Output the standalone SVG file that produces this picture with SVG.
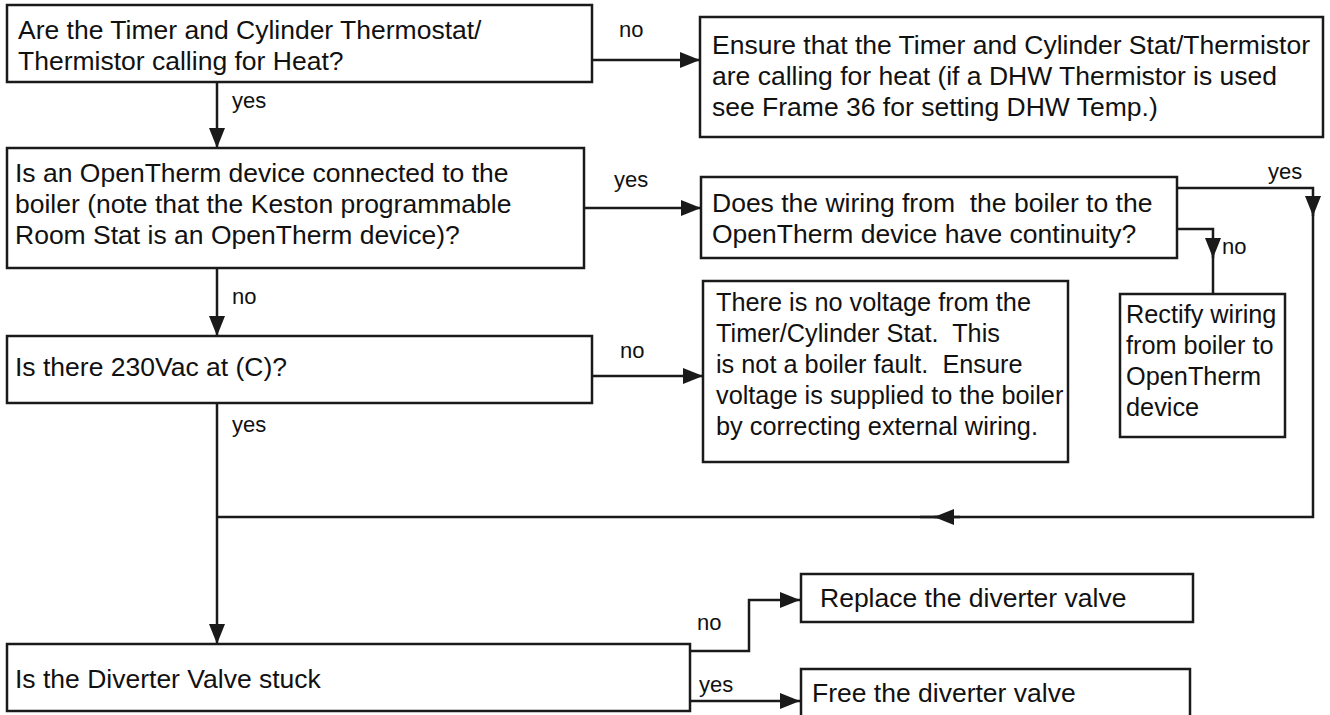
<svg xmlns="http://www.w3.org/2000/svg" width="1330" height="715" viewBox="0 0 1330 715">
<defs>
<marker id="ah" viewBox="0 0 20 16" refX="20" refY="8" markerWidth="20" markerHeight="16" markerUnits="userSpaceOnUse" orient="auto">
<path d="M0,0 L20,8 L0,16 Z" fill="#1a1a1a"/>
</marker>
<style>
.box{fill:#fff;stroke:#1a1a1a;stroke-width:2.5}
.t{font-family:"Liberation Sans",Arial,sans-serif;font-size:26.5px;fill:#111;white-space:pre}
.s{font-size:25.3px}
.l{font-family:"Liberation Sans",Arial,sans-serif;font-size:22px;fill:#111}
.c{fill:none;stroke:#1a1a1a;stroke-width:2.5}
</style>
</defs>
<rect width="1330" height="715" fill="#fff"/>
<g id="connectors">
<line class="c" x1="592" y1="60" x2="700" y2="60" marker-end="url(#ah)"/>
<line class="c" x1="217" y1="82" x2="217" y2="148" marker-end="url(#ah)"/>
<line class="c" x1="583" y1="208" x2="701" y2="208" marker-end="url(#ah)"/>
<polyline class="c" points="1177,188 1313,188 1313,216" marker-end="url(#ah)"/>
<polyline class="c" points="1313,210 1313,517 920,517"/>
<line class="c" x1="960" y1="517" x2="934" y2="517" marker-end="url(#ah)"/>
<polyline class="c" points="1177,229 1213,229 1213,258" marker-end="url(#ah)"/>
<line class="c" x1="1213" y1="250" x2="1213" y2="294"/>
<line class="c" x1="217" y1="268" x2="217" y2="336" marker-end="url(#ah)"/>
<line class="c" x1="592" y1="376" x2="703" y2="376" marker-end="url(#ah)"/>
<line class="c" x1="938" y1="517" x2="217" y2="517"/>
<line class="c" x1="217" y1="403" x2="217" y2="644" marker-end="url(#ah)"/>
<polyline class="c" points="690,651 749,651 749,600 800,600" marker-end="url(#ah)"/>
<line class="c" x1="690" y1="701" x2="800" y2="701" marker-end="url(#ah)"/>
<text class="l" x="619" y="37">no</text>
<text class="l" x="232" y="108">yes</text>
<text class="l" x="614" y="187">yes</text>
<text class="l" x="1268" y="179">yes</text>
<text class="l" x="1222" y="254">no</text>
<text class="l" x="232" y="304">no</text>
<text class="l" x="620" y="358">no</text>
<text class="l" x="232" y="432">yes</text>
<text class="l" x="697" y="630">no</text>
<text class="l" x="699" y="692">yes</text>
</g>
<g id="n1">
<rect class="box" x="7" y="5" width="585" height="77"/>
<text class="t" x="18" y="39">Are the Timer and Cylinder Thermostat/</text>
<text class="t" x="18" y="70">Thermistor calling for Heat?</text>
</g>
<g id="n2">
<rect class="box" x="700" y="17" width="623" height="120"/>
<text class="t" x="712" y="54">Ensure that the Timer and Cylinder Stat/Thermistor</text>
<text class="t" x="712" y="85">are calling for heat (if a DHW Thermistor is used</text>
<text class="t" x="712" y="116">see Frame 36 for setting DHW Temp.)</text>
</g>
<g id="n3">
<rect class="box" x="7" y="148" width="577" height="120"/>
<text class="t" x="15" y="182">Is an OpenTherm device connected to the</text>
<text class="t" x="15" y="213">boiler (note that the Keston programmable</text>
<text class="t" x="15" y="244">Room Stat is an OpenTherm device)?</text>
</g>
<g id="n4">
<rect class="box" x="701" y="177" width="476" height="81"/>
<text class="t" x="712" y="212">Does the wiring from  the boiler to the</text>
<text class="t" x="712" y="243">OpenTherm device have continuity?</text>
</g>
<g id="n5">
<rect class="box" x="7" y="336" width="585" height="67"/>
<text class="t" x="15" y="376">Is there 230Vac at (C)?</text>
</g>
<g id="n6">
<rect class="box" x="703" y="281" width="365" height="181"/>
<text class="t s" x="716" y="311">There is no voltage from the</text>
<text class="t s" x="716" y="342">Timer/Cylinder Stat.  This</text>
<text class="t s" x="716" y="373">is not a boiler fault.  Ensure</text>
<text class="t s" x="716" y="404">voltage is supplied to the boiler</text>
<text class="t s" x="716" y="435">by correcting external wiring.</text>
</g>
<g id="n7">
<rect class="box" x="1120" y="294" width="165" height="143"/>
<text class="t s" x="1126" y="323">Rectify wiring</text>
<text class="t s" x="1126" y="354">from boiler to</text>
<text class="t s" x="1126" y="385">OpenTherm</text>
<text class="t s" x="1126" y="416">device</text>
</g>
<g id="n8">
<rect class="box" x="7" y="644" width="683" height="67"/>
<text class="t" x="15" y="688">Is the Diverter Valve stuck</text>
</g>
<g id="n9">
<rect class="box" x="801" y="574" width="392" height="48"/>
<text class="t" x="820" y="607">Replace the diverter valve</text>
</g>
<g id="n10">
<rect class="box" x="801" y="669" width="389" height="60"/>
<text class="t" x="812" y="702">Free the diverter valve</text>
</g>
</svg>
